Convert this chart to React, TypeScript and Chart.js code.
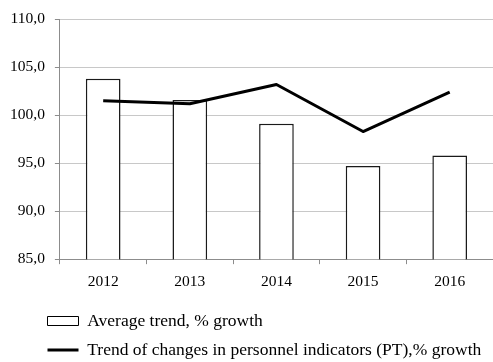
import React, { useEffect, useRef } from 'react';
import { Chart, registerables } from 'chart.js';

Chart.register(...registerables);

const years = ['2012', '2013', '2014', '2015', '2016'];
const averageTrend = [103.8, 101.6, 99.1, 94.7, 95.8];
const personnelTrend = [101.5, 101.2, 103.2, 98.3, 102.4];
const seriesNames = [
  'Average trend, % growth',
  'Trend of changes in personnel indicators (PT),% growth',
];
const yMin = 85;
const yMax = 110;
const yStep = 5;

const FONT = "'Liberation Serif', 'Times New Roman', serif";

const legendShift = {
  id: 'legendShift',
  afterLayout(chart: any) {
    if (chart.legend) chart.legend.left += 36;
  },
};

export default function App() {
  const ref = useRef<HTMLCanvasElement | null>(null);

  useEffect(() => {
    document.body.style.margin = '0';
    if (!ref.current) return;
    const chart = new Chart(ref.current, {
      type: 'bar',
      data: {
        labels: years,
        datasets: [
          {
            type: 'bar',
            label: seriesNames[0],
            data: averageTrend,
            backgroundColor: '#ffffff',
            borderColor: '#1a1a1a',
            borderWidth: 1.5,
            barPercentage: 0.4,
            categoryPercentage: 1,
            order: 1,
          },
          {
            type: 'line',
            label: seriesNames[1],
            data: personnelTrend,
            borderColor: '#000000',
            backgroundColor: '#000000',
            borderWidth: 3,
            pointRadius: 0,
            tension: 0,
            borderJoinStyle: 'round',
            order: 0,
          } as any,
        ],
      },
      options: {
        animation: false,
        responsive: false,
        maintainAspectRatio: false,
        layout: { padding: { left: 0, top: 7.5, right: 0, bottom: -6.75 } },
        font: { family: FONT },
        plugins: {
          tooltip: { enabled: false },
          legend: {
            position: 'bottom',
            align: 'start',
            labels: {
              font: { family: FONT, size: 17.5 },
              color: '#000',
              usePointStyle: true,
              pointStyleWidth: 31,
              boxHeight: 9,
              padding: 11.5,
              generateLabels: () => [
                {
                  text: seriesNames[0],
                  fillStyle: '#ffffff',
                  strokeStyle: '#000000',
                  lineWidth: 1,
                  pointStyle: 'rect',
                  datasetIndex: 0,
                  hidden: false,
                } as any,
                {
                  text: seriesNames[1],
                  fillStyle: '#000000',
                  strokeStyle: '#000000',
                  lineWidth: 3,
                  pointStyle: 'line',
                  datasetIndex: 1,
                  hidden: false,
                } as any,
              ],
            },
          },
        },
        scales: {
          x: {
            offset: true,
            afterFit: (scale: any) => {
              scale.height += 2;
            },
            grid: {
              display: true,
              drawOnChartArea: false,
              drawTicks: true,
              tickLength: 5,
              tickColor: '#8c8c8c',
              offset: true,
            },
            border: { color: '#8c8c8c', width: 1 },
            ticks: {
              font: { family: FONT, size: 15.5 },
              color: '#000',
              padding: 8,
              maxRotation: 0,
            },
          },
          y: {
            min: yMin,
            max: yMax,
            grid: {
              color: '#c8c8c8',
              tickColor: '#8c8c8c',
              tickLength: 5,
            },
            border: { color: '#8c8c8c', width: 1 },
            ticks: {
              stepSize: yStep,
              font: { family: FONT, size: 15.5 },
              color: '#000',
              padding: 10,
              callback: (v: any) => Number(v).toFixed(1).replace('.', ','),
            },
          },
        },
      },
      plugins: [legendShift],
    });
    return () => chart.destroy();
  }, []);

  return (
    <div style={{ width: 493, height: 362 }}>
      <canvas ref={ref} width={493} height={362} style={{ display: 'block' }} />
    </div>
  );
}
